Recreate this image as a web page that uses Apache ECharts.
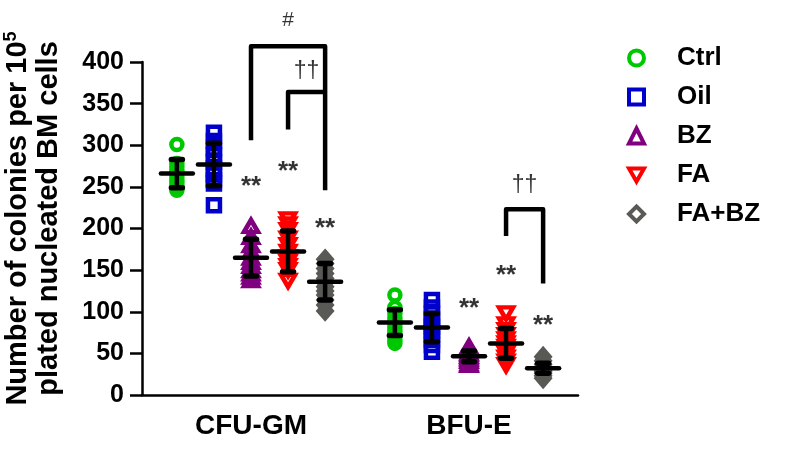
<!DOCTYPE html>
<html>
<head>
<meta charset="utf-8">
<script src="https://cdn.jsdelivr.net/npm/echarts@6/dist/echarts.min.js"></script>
<style>
  html, body { margin: 0; padding: 0; background: #fff; }
  #chart { width: 800px; height: 457px; }
</style>
</head>
<body>
<div id="chart"></div>
<script>
// categories and groups
const categories = ['CFU-GM', 'BFU-E'];
const groups = ['Ctrl', 'Oil', 'BZ', 'FA', 'FA+BZ'];
const colors = ['#00C800', '#0000CC', '#800080', '#FF0000', '#595955'];

// individual values, [CFU-GM, BFU-E]
const ctrlValues = [[301, 278, 274, 270, 266, 262, 258, 255, 251, 248, 246], [120, 105, 98, 92, 87, 82, 78, 74, 70, 66, 62]];
const oilValues = [[228, 254, 258, 265, 272, 280, 288, 296, 305, 315], [114, 105, 98, 92, 86, 82, 78, 72, 66, 60, 52]];
const bzValues = [[203, 190, 180, 172, 165, 160, 155, 150, 146, 142, 138], [58, 54, 51, 49, 47, 45, 43, 41, 38, 36]];
const faValues = [[211, 205, 198, 188, 180, 172, 165, 160, 155, 150, 137], [98, 85, 78, 72, 67, 62, 58, 54, 50, 45, 40, 36]];
const fabzValues = [[163, 158, 152, 146, 140, 135, 130, 125, 120, 114, 108, 101], [46, 41, 37, 34, 32, 30, 28, 26, 23, 20]];

// mean and SD, [CFU-GM, BFU-E]
const means = [[266, 87], [277, 81], [165, 46.5], [172.5, 62], [136, 32]];
const sds = [[17, 15.5], [25.5, 17], [22, 6.5], [24.5, 18], [22, 6]];

// y axis
const yMin = 0, yMax = 400, yStep = 50;

// significance marks
const starGroups = [2, 3, 4];
const starHeights = [[259, 276, 208], [112, 152, 92]];

const allValues = [ctrlValues, oilValues, bzValues, faValues, fabzValues];
const symbols = ['circle', 'rect', 'triangle', 'path://M0,0L2,0L1,1.75Z', 'diamond'];
const symbolSizes = [11, 12, [14, 12], [14, 12], [13, 15]];
const offsets = [-0.34, -0.17, 0, 0.17, 0.34];
const fontFamily = '"Liberation Sans", Arial, sans-serif';

function xpos(cat, g) {
    return cat + 0.5 + offsets[g];
}

const chart = echarts.init(document.getElementById('chart'));

const series = [];

groups.forEach(function (name, g) {
    const data = [];
    categories.forEach(function (c, ci) {
        allValues[g][ci].forEach(function (v) {
            data.push([xpos(ci, g), v]);
        });
    });
    series.push({
        name: name,
        type: 'scatter',
        xAxisIndex: 1,
        symbol: symbols[g],
        symbolSize: symbolSizes[g],
        itemStyle: { color: 'rgba(255,255,255,0)', borderColor: colors[g], borderWidth: 4.5, opacity: 1 },
        data: data,
        z: 2
    });
});

// mean +/- SD
const errData = [];
groups.forEach(function (name, g) {
    categories.forEach(function (c, ci) {
        errData.push([xpos(ci, g), means[g][ci], sds[g][ci]]);
    });
});

series.push({
    type: 'custom',
    xAxisIndex: 1,
    z: 5,
    silent: true,
    data: errData,
    renderItem: function (params, api) {
        const x = api.value(0), m = api.value(1), s = api.value(2);
        const c = api.coord([x, m]);
        const top = api.coord([x, m + s]);
        const bot = api.coord([x, m - s]);
        const st = { stroke: '#000', lineWidth: 4.5, lineCap: 'round' };
        const cap = { stroke: '#000', lineWidth: 5.5, lineCap: 'round' };
        return {
            type: 'group',
            children: [
                { type: 'line', shape: { x1: c[0], y1: top[1], x2: c[0], y2: bot[1] }, style: st },
                { type: 'line', shape: { x1: c[0] - 5.5, y1: top[1], x2: c[0] + 5.5, y2: top[1] }, style: cap },
                { type: 'line', shape: { x1: c[0] - 5.5, y1: bot[1], x2: c[0] + 5.5, y2: bot[1] }, style: cap },
                { type: 'line', shape: { x1: c[0] - 16, y1: c[1], x2: c[0] + 16, y2: c[1] }, style: st }
            ]
        };
    }
});

// brackets
const bracketStyle = { color: '#000', width: 4.5, join: 'round' };
const brackets = [
    [[xpos(0, 2), 306], [xpos(0, 2), 419], [xpos(0, 4), 419], [xpos(0, 4), 246]],
    [[xpos(0, 3), 319], [xpos(0, 3), 364], [xpos(0, 4), 364]],
    [[xpos(1, 3), 191], [xpos(1, 3), 223], [xpos(1, 4), 223], [xpos(1, 4), 134]]
];
brackets.forEach(function (b) {
    series.push({
        type: 'line',
        xAxisIndex: 1,
        data: b,
        symbol: 'none',
        clip: false,
        silent: true,
        lineStyle: bracketStyle,
        z: 4
    });
});

// text marks
const marks = [];
categories.forEach(function (c, ci) {
    starGroups.forEach(function (g, k) {
        marks.push({ value: [xpos(ci, g), starHeights[ci][k]], text: '**', size: 26, weight: 'bold', dy: 7 });
    });
});
marks.push({ value: [xpos(0, 3), 450], text: '#', size: 21, weight: 'normal', dy: 0 });
marks.push({ value: [(xpos(0, 3) + xpos(0, 4)) / 2, 388], text: '††', size: 23, weight: 'normal', dy: 0 });
marks.push({ value: [(xpos(1, 3) + xpos(1, 4)) / 2, 252], text: '††', size: 23, weight: 'normal', dy: 0 });

series.push({
    type: 'scatter',
    xAxisIndex: 1,
    symbolSize: 0,
    clip: false,
    silent: true,
    z: 6,
    data: marks.map(function (m) {
        return {
            value: m.value,
            label: {
                show: true,
                position: 'inside',
                formatter: m.text,
                fontSize: m.size,
                fontWeight: m.weight,
                fontFamily: fontFamily,
                color: '#000',
                offset: [0, m.dy]
            }
        };
    })
});

chart.setOption({
    backgroundColor: '#fff',
    animation: false,
    grid: { left: 142, right: 222, top: 62, bottom: 62, outerBoundsMode: 'none' },
    legend: {
        orient: 'vertical',
        left: 622,
        top: 40,
        itemWidth: 15,
        itemHeight: 15,
        itemGap: 13,
        selectedMode: false,
        data: groups,
        itemStyle: { borderWidth: 4 },
        textStyle: {
            fontSize: 26,
            fontWeight: 'bold',
            fontFamily: fontFamily,
            color: '#000',
            lineHeight: 26,
            padding: [0, 0, 0, 28]
        }
    },
    xAxis: [
        {
            type: 'category',
            data: categories,
            axisLine: { lineStyle: { color: '#000', width: 2.5 } },
            axisTick: { alignWithLabel: true, length: 9, lineStyle: { color: '#000', width: 2.5 } },
            axisLabel: { fontSize: 28, fontWeight: 'bold', fontFamily: fontFamily, color: '#000', margin: 17 },
            splitLine: { show: false }
        },
        {
            type: 'value',
            min: 0,
            max: 2,
            show: false
        }
    ],
    yAxis: {
        type: 'value',
        min: yMin,
        max: yMax,
        interval: yStep,
        axisLine: { show: true, lineStyle: { color: '#000', width: 2.5 } },
        axisTick: { show: true, length: 12, lineStyle: { color: '#000', width: 2.5 } },
        axisLabel: { fontSize: 25, fontWeight: 'bold', fontFamily: fontFamily, color: '#000', margin: 18 },
        splitLine: { show: false },
        name: '{t|Number of colonies per 10}{s|5}\n{t|plated nucleated BM cells}',
        nameLocation: 'middle',
        nameRotate: 90,
        nameGap: 78,
        nameTextStyle: {
            padding: [0, 0, 0, 20],
            rich: {
                t: { fontSize: 29, fontWeight: 'bold', fontFamily: fontFamily, color: '#000', lineHeight: 31 },
                s: { fontSize: 18, fontWeight: 'bold', fontFamily: fontFamily, color: '#000', lineHeight: 31, verticalAlign: 'top' }
            }
        }
    },
    series: series
});
</script>
</body>
</html>
